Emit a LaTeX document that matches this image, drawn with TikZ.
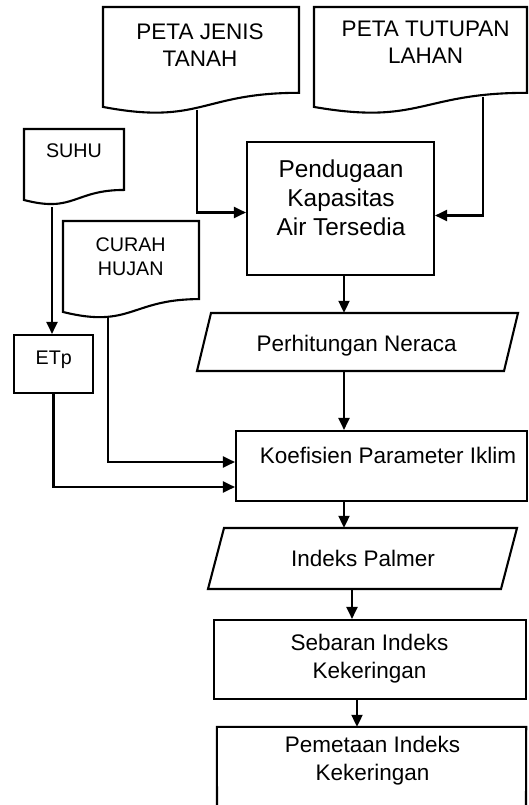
\documentclass[tikz,border=0pt]{standalone}
\usepackage{fontspec}
\setmainfont{Liberation Sans}
\usetikzlibrary{arrows.meta,calc}
\pgfdeclarelayer{bg}\pgfsetlayers{bg,main}
\newcommand\docshape[4]{\draw[outl] (#1,#3) -- (#2,#3) -- (#2,{#3+0.802*#4}) .. controls ({(#1+#2)/2},{#3+0.802*#4}) and ({(#1+#2)/2},{#3+1.1075*#4}) .. (#1,{#3+0.934*#4}) -- cycle;}
\begin{document}
\begin{tikzpicture}[x=1pt,y=-1pt,
  arr/.style={-{Triangle[length=12pt,width=11pt]}, line width=2.1pt},
  box/.style={draw, line width=2.1pt, inner sep=0pt, fill=white},
  area/.style={inner sep=0pt, draw=none},
  lbl/.style={inner sep=0pt, align=center, anchor=base, font=\fontsize{22.5}{27.5}\selectfont},
  big/.style={font=\fontsize{24.4}{29}\selectfont},
  sml/.style={font=\fontsize{19.7}{24}\selectfont},
  outl/.style={draw, line width=2.1pt, fill=white, line join=miter}]
\useasboundingbox (0,0) rectangle (528,805);

% document shapes
\docshape{103}{299}{7}{107}
\docshape{314}{527}{7}{107}
\docshape{24}{124}{129}{76}
\docshape{63}{199}{221}{97.4}
\node[area, minimum width=196, minimum height=100] (jenis) at (201,57) {};
\node[area, minimum width=213, minimum height=100] (tutup) at (420.5,57) {};
\node[area, minimum width=100, minimum height=71] (suhu) at (74,164.5) {};
\node[area, minimum width=136, minimum height=91] (curah) at (131,266.5) {};
\coordinate (jenisB) at (197,110);
\coordinate (tutupB) at (483,97);
\coordinate (suhuB) at (52,207);
\coordinate (curahB) at (108,316);

% process boxes
\node[box, minimum width=187, minimum height=133] (pend) at (340.5,208.5) {};
\node[box, minimum width=79, minimum height=58] (etp) at (53.5,364) {};
\node[box, minimum width=291, minimum height=70] (koef) at (381.5,466) {};
\node[box, minimum width=312, minimum height=79] (sebaran) at (370,659.5) {};
\node[area, minimum width=309, minimum height=86] (pemetaan) at (371.5,770) {};
\draw[outl, fill=none] (217,808) -- (pemetaan.north west) -- (pemetaan.north east) -- (526,808);

% parallelograms
\node[area, minimum width=321, minimum height=58] (neraca) at (357.5,342) {};
\draw[outl] (211,313) -- (518,313) -- (504,371) -- (197,371) -- cycle;
\node[area, minimum width=309, minimum height=61] (palmer) at (362.5,558.5) {};
\draw[outl] (224,528) -- (517,528) -- (501,589) -- (208,589) -- cycle;

% labels
\node[lbl] (jenisT) at (200,67) {PETA JENIS\\TANAH};
\node[lbl] (tutupT) at (425.7,64) {PETA TUTUPAN\\LAHAN};
\node[lbl,big] (pendT) at (341,235) {Pendugaan\\Kapasitas\\Air Tersedia};
\node[lbl,sml] (suhuT) at (74,158) {SUHU};
\node[lbl,sml] (curahT) at (130.7,275) {CURAH\\HUJAN};
\node[lbl,sml] (etpT) at (53.7,364) {ETp};
\node[lbl] (neracaT) at (356.7,351) {Perhitungan Neraca};
\node[lbl] (koefT) at (388,463) {Koefisien Parameter Iklim};
\node[lbl] (palmerT) at (363,566) {Indeks Palmer};
\node[lbl] (sebaranT) at (369.5,678) {Sebaran Indeks\\Kekeringan};
\node[lbl] (pemetaanT) at (372.5,780) {Pemetaan Indeks\\Kekeringan};

% connectors
\coordinate (sp) at (344,0);
\coordinate (sp2) at (352,0);
\coordinate (sp3) at (357,0);
\begin{pgfonlayer}{bg}
\draw[arr] (jenisB) |- ($(pend.west)+(0,4)$);
\draw[arr] (tutupB) |- ($(pend.east)+(0,7)$);
\draw[arr] (suhuB) -- (suhuB |- etp.north);
\draw[arr] (curahB) |- ($(koef.west)+(0,-4)$);
\draw[arr] (etp.south) |- ($(koef.west)+(0,21)$);
\draw[arr] (pend.south -| sp) -- (neraca.north -| sp);
\draw[arr] (neraca.south -| sp) -- (koef.north -| sp);
\draw[arr] (koef.south -| sp) -- (palmer.north -| sp);
\draw[arr] (palmer.south -| sp2) -- (sebaran.north -| sp2);
\draw[arr] (sebaran.south -| sp3) -- (pemetaan.north -| sp3);
\end{pgfonlayer}
\end{tikzpicture}
\end{document}
